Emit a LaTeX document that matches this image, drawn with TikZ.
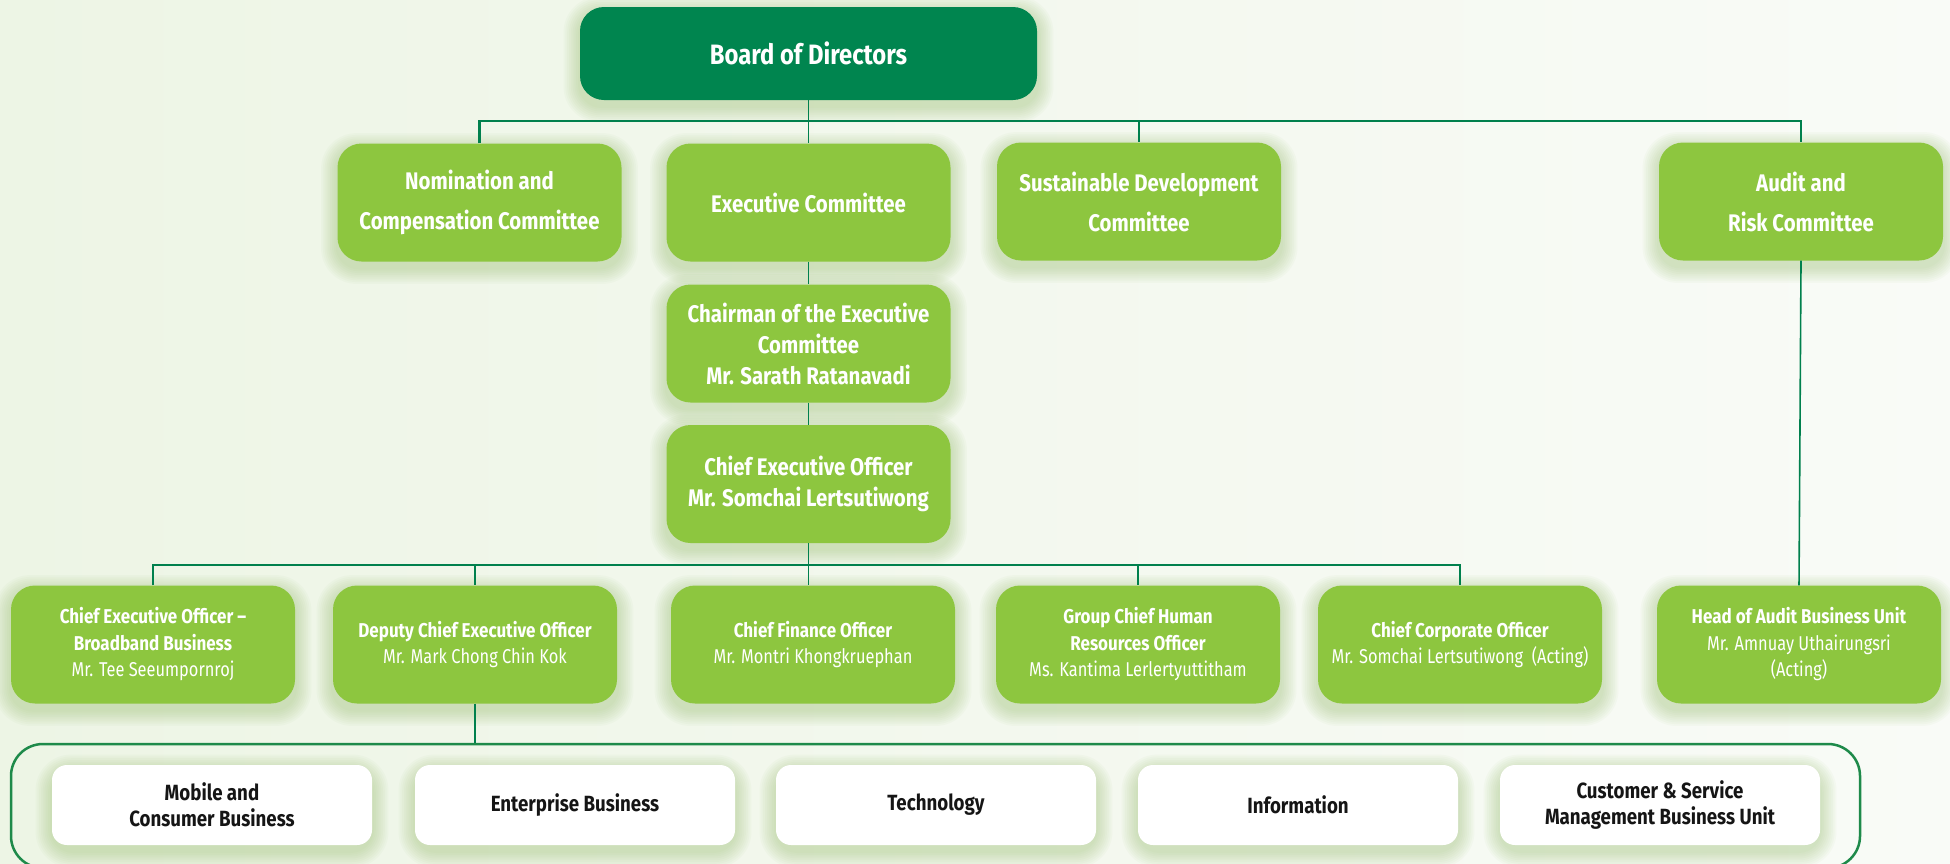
\documentclass[tikz,border=0pt]{standalone}
\usepackage{fontspec}
\setmainfont{Fira Sans}[FakeStretch=0.82, BoldFeatures={FakeStretch=0.85}]
\definecolor{dkgreen}{HTML}{00854F}
\definecolor{ltgreen}{HTML}{8DC63F}
\definecolor{linegreen}{HTML}{00804D}
\definecolor{framegreen}{HTML}{1E8A4A}
\definecolor{bgL}{HTML}{EDF5E5}
\definecolor{bgR}{HTML}{F9FBF7}
\definecolor{shcol}{HTML}{8FB860}
\definecolor{txtdark}{HTML}{151515}
\pgfdeclarelayer{bglayer}
\pgfdeclarelayer{shadowlayer}
\pgfsetlayers{bglayer,shadowlayer,main}
\tikzset{
  boardbox/.style={rectangle, rounded corners=24pt, fill=dkgreen, text=white, minimum width=457pt, minimum height=93pt, inner sep=0pt, align=center, font=\bfseries\fontsize{28}{34}\selectfont},
  gbox/.style={rectangle, rounded corners=24pt, fill=ltgreen, text=white, minimum width=284pt, minimum height=118pt, inner sep=0pt, align=center},
  toptext/.style={font=\bfseries\fontsize{24}{40}\selectfont},
  midtext/.style={font=\bfseries\fontsize{24}{31}\selectfont},
  lowtext/.style={font=\fontsize{20}{26.5}\selectfont},
  wbox/.style={rectangle, rounded corners=15pt, fill=white, text=txtdark, minimum width=320pt, minimum height=80pt, inner sep=0pt, align=center, font=\bfseries\fontsize{22}{26}\selectfont},
  vline/.style={draw=linegreen, line width=1.6pt},
  hline/.style={draw=linegreen, line width=2.2pt},
  shadowfill/.style={fill=shcol, opacity=0.045},
}
\begin{document}
\begin{tikzpicture}[x=1pt,y=-1pt]
\useasboundingbox (0,0) rectangle (1950,863);
\begin{pgfonlayer}{bglayer}
\fill[left color=bgL, right color=bgR] (0,0) rectangle (1950,863);
\end{pgfonlayer}

\coordinate (bus1) at (808.5,121);
\coordinate (bus2) at (808.5,565);

\node (board) [boardbox] at (808.5,53.5) {Board of Directors};
\node (nom) [gbox, toptext] at (479.5,202.5) {Nomination and\\Compensation Committee};
\node (exec) [gbox, toptext] at (808.5,202.5) {Executive Committee};
\node (sus) [gbox, toptext] at (1139,201.5) {Sustainable Development\\Committee};
\node (aud) [gbox, toptext] at (1801,201.5) {Audit and\\Risk Committee};

\node (chair) [gbox, midtext] at (808.5,343.5) {Chairman of the Executive\\Committee\\Mr. Sarath Ratanavadi};
\node (ceo) [gbox, midtext] at (808.5,484) {Chief Executive Officer\\Mr. Somchai Lertsutiwong};

\node (ceob) [gbox, lowtext] at (153,644.5) {\textbf{Chief Executive Officer –}\\\textbf{Broadband Business}\\Mr. Tee Seeumpornroj};
\node (dep) [gbox, lowtext] at (475,644.5) {\textbf{Deputy Chief Executive Officer}\\Mr. Mark Chong Chin Kok};
\node (cfo) [gbox, lowtext] at (813,644.5) {\textbf{Chief Finance Officer}\\Mr. Montri Khongkruephan};
\node (hr) [gbox, lowtext] at (1138,644.5) {\textbf{Group Chief Human}\\\textbf{Resources Officer}\\Ms. Kantima Lerlertyuttitham};
\node (cco) [gbox, lowtext] at (1460,644.5) {\textbf{Chief Corporate Officer}\\Mr. Somchai Lertsutiwong\ \ (Acting)};
\node (hau) [gbox, lowtext] at (1799,644.5) {\textbf{Head of Audit Business Unit}\\Mr. Amnuay Uthairungsri\\(Acting)};

\node (frame) [draw=framegreen, line width=2.5pt, rounded corners=32pt, minimum width=1849pt, minimum height=124pt, inner sep=0pt] at (935.5,806) {};

\node (mob) [wbox] at (212,805) {Mobile and\\Consumer Business};
\node (ent) [wbox] at (575,805) {Enterprise Business};
\node (tech) [wbox] at (936,805) {Technology};
\node (info) [wbox] at (1298,805) {Information};
\node (cust) [wbox] at (1660,805) {Customer \& Service\\Management Business Unit};

% soft shadows
\begin{pgfonlayer}{shadowlayer}
\foreach \n in {board,nom,exec,sus,aud,chair,ceo,ceob,dep,cfo,hr,cco,hau,mob,ent,tech,info,cust} {
  \foreach \k in {1,...,9} {
    \fill[shadowfill, rounded corners=22pt+1.5*\k]
      ([shift={(-1.8*\k,-1.8*\k+6)}]\n.north west) rectangle ([shift={(1.8*\k,1.8*\k+6)}]\n.south east);
  }
}
\end{pgfonlayer}

\draw[vline] (board.south) -- (exec.north);
\draw[hline] (nom.north) |- (bus1) -| (aud.north);
\draw[vline] (bus1) -| (sus.north);
\draw[vline] (exec.south) -- (chair.north);
\draw[vline] (chair.south) -- (ceo.north);
\draw[vline] (ceo.south) -- (ceo.south |- cfo.north);
\draw[hline] (ceob.north) |- (bus2) -| (cco.north);
\draw[vline] (bus2) -| (dep.north);
\draw[vline] (bus2) -| (hr.north);
\draw[vline] (aud.south) -- (hau.north);
\draw[vline] (dep.south) -- (dep.south |- frame.north);
\end{tikzpicture}
\end{document}
